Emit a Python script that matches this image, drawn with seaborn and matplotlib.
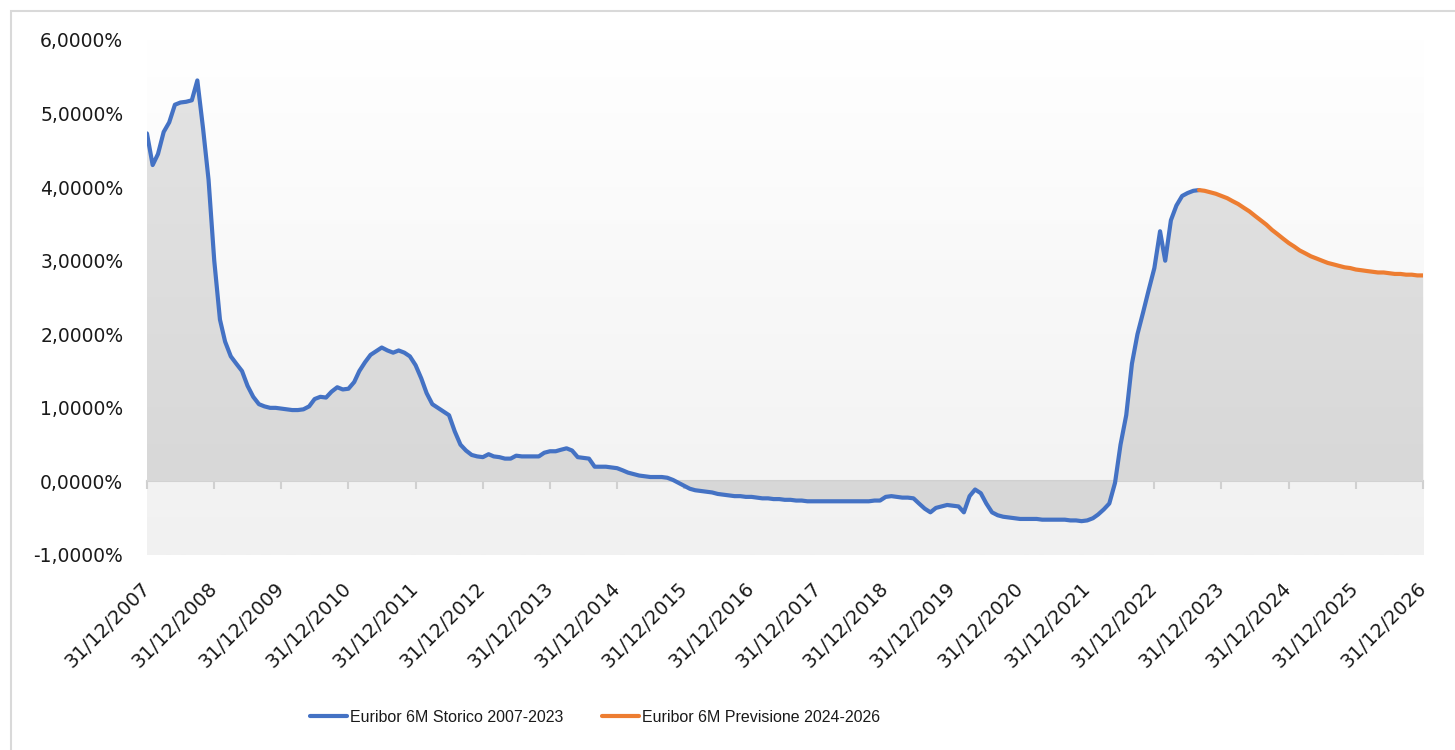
import numpy as np
import pandas as pd
import matplotlib
matplotlib.use('Agg')
import matplotlib.pyplot as plt
import matplotlib.dates as mdates
from matplotlib.colors import LinearSegmentedColormap
from matplotlib.patches import Rectangle
from matplotlib.font_manager import FontProperties
import seaborn as sns

# Euribor 6M, monthly values (%), from 31/12/2007
storico = [
    4.73, 4.30, 4.45, 4.75, 4.88, 5.12, 5.15, 5.16, 5.18, 5.45, 4.80, 4.10,
    3.00, 2.20, 1.90, 1.70, 1.60, 1.50, 1.30, 1.15, 1.05, 1.02, 1.00, 1.00,
    0.99, 0.98, 0.97, 0.97, 0.98, 1.02, 1.12, 1.15, 1.14, 1.22, 1.28, 1.25,
    1.26, 1.35, 1.50, 1.62, 1.72, 1.77, 1.82, 1.78, 1.75, 1.78, 1.75, 1.70,
    1.58, 1.40, 1.20, 1.05, 1.00, 0.95, 0.90, 0.68, 0.50, 0.42, 0.36, 0.34,
    0.33, 0.37, 0.34, 0.33, 0.31, 0.31, 0.35, 0.34, 0.34, 0.34, 0.34, 0.39,
    0.41, 0.41, 0.43, 0.45, 0.42, 0.33, 0.32, 0.31, 0.20, 0.20, 0.20, 0.19,
    0.18, 0.15, 0.12, 0.10, 0.08, 0.07, 0.06, 0.06, 0.06, 0.05, 0.02, -0.02,
    -0.06, -0.10, -0.12, -0.13, -0.14, -0.15, -0.17, -0.18, -0.19, -0.20, -0.20, -0.21,
    -0.21, -0.22, -0.23, -0.23, -0.24, -0.24, -0.25, -0.25, -0.26, -0.26, -0.27, -0.27,
    -0.27, -0.27, -0.27, -0.27, -0.27, -0.27, -0.27, -0.27, -0.27, -0.27, -0.26, -0.26,
    -0.21, -0.20, -0.21, -0.22, -0.22, -0.23, -0.30, -0.37, -0.42, -0.36, -0.34, -0.32,
    -0.33, -0.34, -0.42, -0.20, -0.11, -0.16, -0.30, -0.42, -0.46, -0.48, -0.49, -0.50,
    -0.51, -0.51, -0.51, -0.51, -0.52, -0.52, -0.52, -0.52, -0.52, -0.53, -0.53, -0.54,
    -0.53, -0.50, -0.45, -0.38, -0.30, -0.02, 0.50, 0.90, 1.60, 2.00, 2.30, 2.60,
    2.90, 3.40, 3.00, 3.55, 3.75, 3.88, 3.92, 3.95, 3.96,
]

# forecast, starts on the last historical month
previsione = [
    3.96, 3.95, 3.93, 3.91, 3.88, 3.85, 3.81, 3.77, 3.72, 3.67, 3.61, 3.55,
    3.49, 3.42, 3.36, 3.30, 3.24, 3.19, 3.14, 3.10, 3.06, 3.03, 3.00, 2.97,
    2.95, 2.93, 2.91, 2.90, 2.88, 2.87, 2.86, 2.85, 2.84, 2.84, 2.83, 2.82,
    2.82, 2.81, 2.81, 2.80, 2.80,
]

label_storico = 'Euribor 6M Storico 2007-2023'
label_previsione = 'Euribor 6M Previsione 2024-2026'
tick_years = list(range(2007, 2027))
y_ticks = [-1, 0, 1, 2, 3, 4, 5, 6]

dates_storico = pd.date_range('2007-12-31', periods=len(storico), freq='ME')
dates_previsione = pd.date_range(dates_storico[-1], periods=len(previsione), freq='ME')
all_dates = dates_storico.append(dates_previsione[1:])
all_values = storico + previsione[1:]
tick_dates = [pd.Timestamp(f'{y}-12-31') for y in tick_years]

sns.set_style('white')
plt.rcParams['font.family'] = ['DejaVu Sans']

fig = plt.figure(figsize=(14.55, 7.5), dpi=100)
ax = fig.add_axes([0.101, 0.26, 0.877, 0.6867])
ax.patch.set_visible(False)

x0 = mdates.date2num(tick_dates[0])
x1 = mdates.date2num(tick_dates[-1])
grad = np.linspace(0, 1, 256).reshape(-1, 1)

# plot area gradient
bg_cmap = LinearSegmentedColormap.from_list('bg', ['#ffffff', '#f1f1f1'])
ax.imshow(grad, extent=[x0, x1, -1, 6], aspect='auto', cmap=bg_cmap, zorder=0)

# grey area under the curve
fill_cmap = LinearSegmentedColormap.from_list('fill', ['#e4e4e4', '#d6d6d6'])
poly = ax.fill_between(mdates.date2num(all_dates), all_values, 0,
                       facecolor='none', edgecolor='none')
im = ax.imshow(grad, extent=[x0, x1, -1, 6], aspect='auto', cmap=fill_cmap, zorder=1)
im.set_clip_path(poly.get_paths()[0], transform=ax.transData)

sns.lineplot(x=dates_storico, y=storico, ax=ax, color='#4472C4', lw=3,
             label=label_storico, zorder=4)
sns.lineplot(x=dates_previsione, y=previsione, ax=ax, color='#ED7D31', lw=3,
             label=label_previsione, zorder=4)
ax.get_legend().remove()

ax.set_xlim(tick_dates[0], tick_dates[-1])
ax.set_ylim(-1, 6)
ax.set_xlabel('')
ax.set_ylabel('')
for s in ax.spines.values():
    s.set_visible(False)

ax.set_xticks(tick_dates)
ax.set_xticklabels([d.strftime('%d/%m/%Y') for d in tick_dates], rotation=45,
                   ha='right', va='center', rotation_mode='anchor', fontsize=14,
                   color='#1a1a1a')
ax.set_yticks(y_ticks)
ax.set_yticklabels([f'{v:.4f}%'.replace('.', ',') for v in y_ticks], fontsize=13.5,
                   color='#1a1a1a')
ax.tick_params(axis='x', length=0, pad=22)
ax.tick_params(axis='y', length=0, pad=17)

# zero line with year ticks
sec = ax.secondary_xaxis(0, transform=ax.transData)
sec.set_xticks(mdates.date2num(tick_dates))
sec.set_xticklabels([])
sec.tick_params(direction='out', length=6, width=1.5, color='#d0d0d0')
sec.spines['bottom'].set_color('#d0d0d0')
sec.spines['bottom'].set_linewidth(1.5)

# chart border (only left/top visible)
fig.patches.append(Rectangle((11 / 1455, -0.1), 2, 1 - 11 / 750 + 0.1,
                             transform=fig.transFigure, fill=False,
                             edgecolor='#d9d9d9', lw=1.5))

handles, labels = ax.get_legend_handles_labels()
leg_font = FontProperties(family=['Liberation Sans'], size=11.5)
fig.legend(handles, labels, loc='center', bbox_to_anchor=(0.409, 0.044), ncol=2,
           frameon=False, handlelength=2.3, handletextpad=0.2, columnspacing=2.4,
           prop=leg_font, labelcolor='#1a1a1a')

fig.savefig('out.png', dpi=100)
